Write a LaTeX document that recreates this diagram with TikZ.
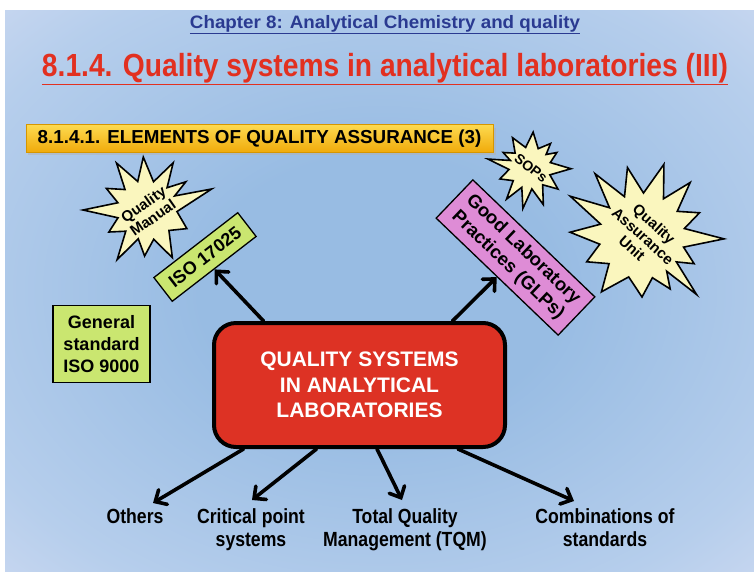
\documentclass[tikz,border=0pt]{standalone}
\usepackage{fontspec}
\setmainfont{Liberation Sans}
\usetikzlibrary{arrows.meta,calc}

\definecolor{bgin}{RGB}{152,188,227}
\definecolor{bgmid}{RGB}{182,206,236}
\definecolor{bgedge}{RGB}{214,222,243}
\definecolor{bgout}{RGB}{242,232,247}
\definecolor{tblue}{RGB}{42,58,145}
\definecolor{tred}{RGB}{226,48,32}
\definecolor{banA}{RGB}{253,218,80}
\definecolor{banB}{RGB}{240,170,10}
\definecolor{banD}{RGB}{214,150,0}
\definecolor{starf}{RGB}{250,246,190}
\definecolor{greenf}{RGB}{202,230,112}
\definecolor{pinkf}{RGB}{222,140,214}
\definecolor{redf}{RGB}{221,50,36}

\pgfdeclareradialshading{slidebg}{\pgfpoint{0bp}{0bp}}{color(0bp)=(bgin); color(12bp)=(bgin); color(30bp)=(bgmid); color(42bp)=(bgedge); color(56bp)=(bgout); color(72bp)=(bgout)}

\newcommand\fsz[2]{\fontsize{#1}{#2}\selectfont}
\newcommand\narrowto[2]{\resizebox{#1}{\height}{#2}}

\begin{document}
\begin{tikzpicture}[x=1pt,y=-1pt,
  starsty/.style={fill=starf,draw=black,line width=1.6pt,line join=miter},
  greenbox/.style={fill=greenf,draw=black,line width=1.3pt,font=\fsz{18}{22}\bfseries,align=center,inner sep=0pt},
  pinkbox/.style={fill=pinkf,draw=black,line width=1.3pt,font=\fsz{18.5}{22}\bfseries,align=center,inner sep=0pt},
  startext/.style={font=\fsz{15}{16.5}\bfseries,align=center,inner sep=0pt},
  mainbox/.style={fill=redf,draw=black,line width=4pt,rounded corners=22pt,text=white,font=\fsz{21}{25.5}\bfseries,align=center,inner sep=0pt},
  banner/.style={top color=banA,bottom color=banB,draw=banD,line width=0.8pt,inner sep=0pt,font=\fsz{18.8}{20}\bfseries},
  lbl/.style={inner sep=0pt,anchor=north},
  arr/.style={line width=3.6pt,line cap=round,-{Straight Barb[length=9pt,width=17pt,line cap=round]}}
]
\useasboundingbox (0,0) rectangle (754,571);
\fill[white] (0,0) rectangle (754,571);
\shade[shading=slidebg] (5,10) rectangle (754,571);

% titles
\node[inner sep=0pt,anchor=base,text=tblue] (title1) at (385,28)
  {\narrowto{390pt}{\fsz{18}{20}\bfseries\underline{Chapter 8: Analytical Chemistry and quality}}};
\node[inner sep=0pt,anchor=base,text=tred] (title2) at (385,76)
  {\narrowto{686pt}{\fsz{32}{34}\bfseries\underline{8.1.4. Quality systems in analytical laboratories (III)}}};

% banner
\fill[black!30,opacity=0.5] (28,128) rectangle (496,155);
\node[banner,minimum width=467pt,minimum height=28pt] (ban) at (259.5,138.5)
  {8.1.4.1. ELEMENTS OF QUALITY ASSURANCE (3)};

% star: Quality Manual
\begin{scope}[shift={(147,210)},yscale=-1]
\draw[starsty] (94:53) -- (77:29) -- (61:54) -- (48:30) -- (36:48) -- (27:31) -- (18:68) -- (-3:30)
  -- (-25:44) -- (-43:30) -- (-62:54) -- (-77:30) -- (-93:46) -- (-107:30) -- (-121:58) -- (-135:30)
  -- (-150:44) -- (-165:30) -- (180:64) -- (166:30) -- (152:46) -- (137:30) -- (123:56) -- (108:30) -- cycle;
\end{scope}
\node[startext,rotate=35] (qm) at (148,211) {Quality\\Manual};

% star: SOPs
\begin{scope}[shift={(530,168)},yscale=-1]
\draw[starsty] (85:36) -- (102:21) -- (120:35) -- (135:21) -- (150:31) -- (159:21) -- (168:43) -- (-176:21)
  -- (-160:32) -- (-143:21) -- (-127:39) -- (-113:21) -- (-100:41) -- (-85:21) -- (-70:39) -- (-53:21)
  -- (-37:35) -- (-19:21) -- (-1:41) -- (15:21) -- (30:31) -- (40:21) -- (50:32) -- (67:21) -- cycle;
\end{scope}
\node[startext,font=\fsz{14}{15}\bfseries,rotate=-38] (sops) at (531,168) {SOPs};

% star: Quality Assurance Unit
\begin{scope}[shift={(642,236)},yscale=-1]
\draw[starsty] (73:75) -- (88:43) -- (102:70) -- (114:43) -- (127:78) -- (139:43) -- (151:82) -- (164:43)
  -- (177:72) -- (-169:43) -- (-155:61) -- (-140:43) -- (-126:69) -- (-108:43) -- (-90:61) -- (-76:43)
  -- (-62:60) -- (-55:43) -- (-47:80) -- (-37:43) -- (-28:59) -- (-15:43) -- (-2:82) -- (10:43)
  -- (22:62) -- (35:43) -- (48:72) -- (60:43) -- cycle;
\end{scope}
\node[startext,rotate=-42] (qau) at (643,236) {Quality\\Assurance\\Unit};

% boxes
\node[greenbox,rotate=37.7,minimum width=106pt,minimum height=30pt] (iso) at (205,257) {ISO 17025};
\node[pinkbox,rotate=-43.8,minimum width=169pt,minimum height=53pt] (glp) at (515.5,257.5)
  {Good Laboratory\\Practices (GLPs)};
\node[greenbox,minimum width=97pt,minimum height=77pt] (gen) at (101.5,344) {General\\standard\\ISO 9000};
\node[mainbox,minimum width=291pt,minimum height=124pt] (qs) at (359.5,385)
  {QUALITY SYSTEMS\\IN ANALYTICAL\\LABORATORIES};

% bottom labels
\node[lbl] (oth) at (135,507) {\scalebox{0.86}[1]{\fsz{20.5}{23}\bfseries\begin{tabular}{@{}c@{}}Others\end{tabular}}};
\node[lbl] (crit) at (251,507) {\scalebox{0.86}[1]{\fsz{20.5}{23}\bfseries\begin{tabular}{@{}c@{}}Critical point\\systems\end{tabular}}};
\node[lbl] (tqm) at (405,507) {\scalebox{0.86}[1]{\fsz{20.5}{23}\bfseries\begin{tabular}{@{}c@{}}Total Quality\\Management (TQM)\end{tabular}}};
\node[lbl] (comb) at (605,507) {\scalebox{0.86}[1]{\fsz{20.5}{23}\bfseries\begin{tabular}{@{}c@{}}Combinations of\\standards\end{tabular}}};

% arrows
\draw[arr] ($(qs.north)+(-96,0)$) -- (iso.south);
\draw[arr] ($(qs.north)+(93,0)$) -- (glp.south);
\draw[arr] ($(qs.south)+(-116,0)$) -- ($(oth.north)+(18,-4)$);
\draw[arr] ($(qs.south)+(-43,0)$) -- ($(crit.north)+(1,-7)$);
\draw[arr] ($(qs.south)+(17.5,0)$) -- ($(tqm.north)+(-3,-7)$);
\draw[arr] ($(qs.south)+(98.5,0)$) -- ($(comb.north)+(-31,-6)$);
\end{tikzpicture}
\end{document}
